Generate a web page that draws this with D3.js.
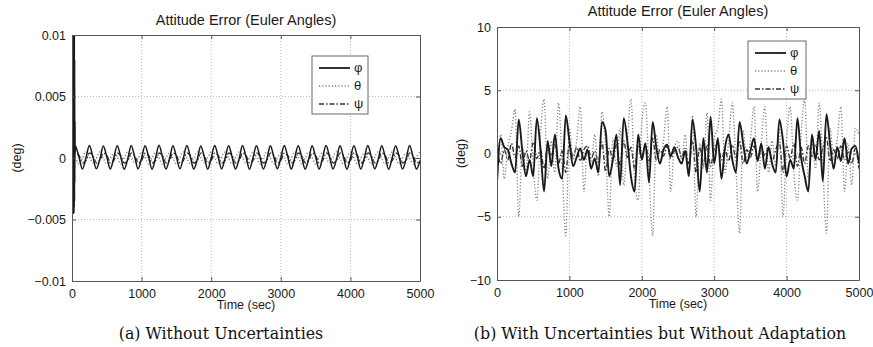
<!DOCTYPE html>
<html>
<head>
<meta charset="utf-8">
<script src="https://cdn.jsdelivr.net/npm/d3@7"></script>
<style>
  body { margin: 0; background: #fff; }
  svg { display: block; }
</style>
</head>
<body>
<div id="chart"></div>
<script>
// sample times, seconds (every 50 s)
var timeSec = [
  0, 50, 100, 150, 200, 250, 300, 350, 400, 450,
  500, 550, 600, 650, 700, 750, 800, 850, 900, 950,
  1000, 1050, 1100, 1150, 1200, 1250, 1300, 1350, 1400, 1450,
  1500, 1550, 1600, 1650, 1700, 1750, 1800, 1850, 1900, 1950,
  2000, 2050, 2100, 2150, 2200, 2250, 2300, 2350, 2400, 2450,
  2500, 2550, 2600, 2650, 2700, 2750, 2800, 2850, 2900, 2950,
  3000, 3050, 3100, 3150, 3200, 3250, 3300, 3350, 3400, 3450,
  3500, 3550, 3600, 3650, 3700, 3750, 3800, 3850, 3900, 3950,
  4000, 4050, 4100, 4150, 4200, 4250, 4300, 4350, 4400, 4450,
  4500, 4550, 4600, 4650, 4700, 4750, 4800, 4850, 4900, 4950,
  5000
];

// (a) initial transient of phi in the first seconds
var phiStartTime = [0, 2, 4, 6, 8, 10, 12, 14, 16, 18, 20, 22, 24, 26, 28, 30, 32, 34, 36, 38, 40, 43, 46];
var phiStart = [-0.012, 0.012, -0.0045, 0.012, -0.0045, 0.012, -0.0045, 0.012, -0.0045, 0.012,
  -0.0045, 0.012, -0.0045, 0.012, -0.0045, 0.012, -0.004, 0.011, -0.0035, 0.008, -0.002, 0.003, 0.0005];

// (a) without uncertainties
var phiA = [
  0.0005, 0.00100, 0.0001, -0.00090, 0.0000, 0.00102, 0.0001, -0.00088, -0.0001, 0.00098,
  0.0001, -0.00090, 0.0000, 0.00100, 0.0001, -0.00092, -0.0001, 0.00101, 0.0001, -0.00089,
  0.0000, 0.00099, 0.0001, -0.00091, 0.0000, 0.00103, 0.0001, -0.00090, -0.0001, 0.00100,
  0.0001, -0.00088, 0.0000, 0.00101, 0.0001, -0.00090, -0.0001, 0.00098, 0.0001, -0.00091,
  0.0000, 0.00102, 0.0001, -0.00089, 0.0000, 0.00100, 0.0001, -0.00090, -0.0001, 0.00101,
  0.0001, -0.00092, 0.0000, 0.00099, 0.0001, -0.00090, -0.0001, 0.00100, 0.0001, -0.00088,
  0.0000, 0.00102, 0.0001, -0.00090, 0.0000, 0.00100, 0.0001, -0.00091, -0.0001, 0.00099,
  0.0001, -0.00090, 0.0000, 0.00101, 0.0001, -0.00089, -0.0001, 0.00100, 0.0001, -0.00092,
  0.0000, 0.00100, 0.0001, -0.00090, 0.0000, 0.00102, 0.0001, -0.00088, -0.0001, 0.00100,
  0.0001, -0.00091, 0.0000, 0.00099, 0.0001, -0.00090, -0.0001, 0.00101, 0.0001, -0.00090,
  -0.0002
];
var thetaA = [
  0.0005, 0.0000, -0.0005, 0.0000, 0.0005, 0.0001, -0.0004, 0.0000, 0.0005, 0.0000,
  -0.0005, 0.0000, 0.0004, 0.0001, -0.0005, 0.0000, 0.0005, 0.0000, -0.0004, 0.0000,
  0.0005, 0.0001, -0.0005, 0.0000, 0.0005, 0.0000, -0.0005, 0.0000, 0.0004, 0.0000,
  -0.0005, 0.0001, 0.0005, 0.0000, -0.0005, 0.0000, 0.0005, 0.0000, -0.0004, 0.0000,
  0.0005, 0.0000, -0.0005, 0.0001, 0.0005, 0.0000, -0.0005, 0.0000, 0.0005, 0.0000,
  -0.0004, 0.0000, 0.0005, 0.0001, -0.0005, 0.0000, 0.0005, 0.0000, -0.0005, 0.0000,
  0.0004, 0.0000, -0.0005, 0.0000, 0.0005, 0.0001, -0.0005, 0.0000, 0.0005, 0.0000,
  -0.0005, 0.0000, 0.0005, 0.0000, -0.0004, 0.0001, 0.0005, 0.0000, -0.0005, 0.0000,
  0.0005, 0.0000, -0.0005, 0.0000, 0.0004, 0.0000, -0.0005, 0.0001, 0.0005, 0.0000,
  -0.0005, 0.0000, 0.0005, 0.0000, -0.0005, 0.0000, 0.0004, 0.0000, -0.0005, 0.0001,
  0.0005
];
var psiA = [
  -0.0002, 0.0004, 0.0002, -0.0004, -0.0002, 0.0004, 0.0002, -0.0004, -0.0002, 0.0004,
  0.0002, -0.0004, -0.0002, 0.0004, 0.0002, -0.0004, -0.0002, 0.0004, 0.0002, -0.0004,
  -0.0002, 0.0004, 0.0002, -0.0004, -0.0002, 0.0004, 0.0002, -0.0004, -0.0002, 0.0004,
  0.0002, -0.0004, -0.0002, 0.0004, 0.0002, -0.0004, -0.0002, 0.0004, 0.0002, -0.0004,
  -0.0002, 0.0004, 0.0002, -0.0004, -0.0002, 0.0004, 0.0002, -0.0004, -0.0002, 0.0004,
  0.0002, -0.0004, -0.0002, 0.0004, 0.0002, -0.0004, -0.0002, 0.0004, 0.0002, -0.0004,
  -0.0002, 0.0004, 0.0002, -0.0004, -0.0002, 0.0004, 0.0002, -0.0004, -0.0002, 0.0004,
  0.0002, -0.0004, -0.0002, 0.0004, 0.0002, -0.0004, -0.0002, 0.0004, 0.0002, -0.0004,
  -0.0002, 0.0004, 0.0002, -0.0004, -0.0002, 0.0004, 0.0002, -0.0004, -0.0002, 0.0004,
  0.0002, -0.0004, -0.0002, 0.0004, 0.0002, -0.0004, -0.0002, 0.0004, 0.0002, -0.0004,
  -0.0002
];

// (b) with uncertainties but without adaptation
var phiB = [
  -2.3, 1.2, 0.5, 0.3, -0.8, -1.5, 2.7, 0.2, -1.8, -0.5,
  -1.8, 2.8, 0.4, -3.0, 1.0, -1.0, 1.5, -1.2, -2.0, 3.0,
  1.0, -1.0, -0.3, 0.4, -0.5, 0.3, -1.2, -0.4, -1.5, 2.5,
  1.8, -1.8, -0.5, 1.5, -2.5, 2.8, 1.0, -1.8, -3.0, 1.5,
  -0.5, 0.8, -2.3, 2.5, 0.5, -0.8, 0.3, 0.7, -0.2, 0.5,
  -0.3, -0.8, 0.2, -1.8, 2.7, 0.5, -3.0, 1.2, -1.5, 2.9,
  -0.8, 1.2, -2.0, 0.5, 1.5, -0.5, -1.5, 2.5, 0.8, -0.8,
  0.2, 1.2, -0.6, 0.8, -1.2, 0.5, -0.8, -1.5, 2.7, 1.0,
  -1.8, -0.5, -1.2, 2.8, -0.3, -1.8, -3.0, 1.5, -0.5, 1.8,
  -2.2, 3.1, 0.8, -1.2, 0.5, -0.6, 1.2, -0.8, 0.4, 0.6,
  -0.8
];
var thetaB = [
  -2.5, 1.5, -2.0, 0.5, 1.8, 3.5, -5.0, 0.5, -1.5, 3.3,
  -1.0, -3.7, 1.5, 4.3, -2.0, 1.0, -1.5, 4.0, -1.0, -6.5,
  2.0, -0.5, 1.0, 3.7, -3.0, 0.5, -0.8, 1.5, -1.8, 3.3,
  0.5, -5.0, 1.2, -1.0, 2.0, -2.5, 1.0, 4.3, -2.0, -3.7,
  2.5, 4.0, -1.5, -6.5, 1.5, -0.8, 1.0, 3.7, -3.0, 0.5,
  1.0, -0.5, 1.5, -1.8, 3.0, -5.0, 0.8, -1.2, 3.2, -3.7,
  1.2, 2.0, 4.3, -1.5, 1.0, 4.0, -1.0, -6.3, 1.8, -0.5,
  1.0, 3.7, -3.0, 0.8, 3.7, -1.5, 1.0, -1.0, 2.0, -5.0,
  1.0, 3.7, -1.5, -3.7, 1.5, 4.3, -2.0, 1.0, -1.2, 4.0,
  -1.0, -6.3, 2.0, -0.5, 1.2, 3.7, -3.0, 0.8, -2.5, 2.0,
  1.5
];
var psiB = [
  0.5, -0.8, 0.3, -0.5, 0.8, -0.3, 0.6, -1.0, 0.2, -0.6,
  0.9, -0.4, 0.3, -1.2, 0.5, -0.2, 0.7, -0.8, 0.2, -1.5,
  0.8, -0.3, 0.5, -0.6, 0.3, 0.6, -0.4, 0.2, -0.7, 0.9,
  -1.4, 0.4, -0.5, 0.7, -0.9, 1.0, -0.3, 0.5, -1.2, 0.6,
  -0.4, 0.8, -0.6, 1.2, -0.5, 0.3, -0.2, 0.6, -0.4, 0.2,
  0.5, -0.3, 0.4, -0.8, 1.0, -1.5, 0.5, -0.9, 0.7, -1.0,
  0.4, 0.8, -0.5, 0.3, -0.6, 0.7, -0.4, 1.0, -0.8, 0.3,
  -0.3, 0.6, -0.5, 0.4, -0.2, 0.5, -0.6, 0.3, 0.9, -1.5,
  0.6, -0.4, 0.8, -1.0, 0.5, -0.8, 0.6, -0.3, 0.7, -0.5,
  0.4, 1.3, -0.6, 0.3, -0.4, 0.6, -0.5, 0.2, -0.8, 0.4,
  -1.2
];

var seriesNames = ["\u03c6", "\u03b8", "\u03c8"];
var xTicks = [0, 1000, 2000, 3000, 4000, 5000];
var yTicksA = [-0.01, -0.005, 0, 0.005, 0.01];
var yTickLabelsA = ["\u22120.01", "\u22120.005", "0", "0.005", "0.01"];
var yTicksB = [-10, -5, 0, 5, 10];
var yTickLabelsB = ["\u221210", "\u22125", "0", "5", "10"];

var titleText = "Attitude Error (Euler Angles)";
var xLabelText = "Time (sec)";
var yLabelText = "(deg)";

// line styles for phi, theta, psi
var styles = [
  {stroke: "#1a1a1a", width: 1.5, dash: null},
  {stroke: "#808080", width: 1.3, dash: "1.2,2"},
  {stroke: "#333", width: 1.4, dash: "5,2,1.5,2"}
];

var svg = d3.select("#chart")
  .append("svg")
  .attr("width", 873)
  .attr("height", 347)
  .style("font-family", "'Liberation Sans', Arial, sans-serif");

function zip(t, v) {
  return t.map(function(d, i) { return {t: d, v: v[i]}; });
}

// phi in panel (a) = transient + steady oscillation
var phiAPts = zip(phiStartTime, phiStart).concat(zip(timeSec, phiA).filter(function(d) { return d.t > 46; }));

var panels = [
  {
    id: "a",
    left: 72, right: 420, top: 35, bottom: 281,
    yDomain: [-0.01, 0.01], yTicks: yTicksA, yLabels: yTickLabelsA,
    data: [phiAPts, zip(timeSec, thetaA), zip(timeSec, psiA)],
    curve: d3.curveCatmullRom, phiWidth: 1.5,
    titleY: 25, yLabelX: 21, caption: "(a) Without Uncertainties", captionX: 221,
    legend: {x: 312, y: 56, w: 56, h: 58}
  },
  {
    id: "b",
    left: 497, right: 859, top: 27, bottom: 280,
    yDomain: [-10, 10], yTicks: yTicksB, yLabels: yTickLabelsB,
    data: [zip(timeSec, phiB), zip(timeSec, thetaB), zip(timeSec, psiB)],
    curve: d3.curveMonotoneX, phiWidth: 1.9,
    titleY: 16, yLabelX: 465, caption: "(b) With Uncertainties but Without Adaptation", captionX: 660,
    legend: {x: 748, y: 41, w: 58, h: 58}
  }
];

panels.forEach(function(p) {
  var width = p.right - p.left;
  var height = p.bottom - p.top;

  var x = d3.scaleLinear().domain([0, 5000]).range([0, width]);
  var y = d3.scaleLinear().domain(p.yDomain).range([height, 0]);

  var g = svg.append("g")
    .attr("transform", "translate(" + p.left + "," + p.top + ")");

  // dotted grid
  g.append("g").selectAll("line").data(xTicks.slice(1, -1)).enter().append("line")
    .attr("x1", function(d) { return x(d); }).attr("x2", function(d) { return x(d); })
    .attr("y1", 0).attr("y2", height)
    .attr("stroke", "#b8b8b8").attr("stroke-dasharray", "1,2");
  g.append("g").selectAll("line").data(p.yTicks.slice(1, -1)).enter().append("line")
    .attr("y1", function(d) { return y(d); }).attr("y2", function(d) { return y(d); })
    .attr("x1", 0).attr("x2", width)
    .attr("stroke", "#b8b8b8").attr("stroke-dasharray", "1,2");

  // clip for the curves
  g.append("clipPath").attr("id", "clip-" + p.id)
    .append("rect").attr("width", width).attr("height", height);

  var line = d3.line()
    .x(function(d) { return x(d.t); })
    .y(function(d) { return y(d.v); })
    .curve(p.curve);

  var lines = g.append("g").attr("clip-path", "url(#clip-" + p.id + ")");
  // draw psi, theta first then phi on top
  [2, 1, 0].forEach(function(k) {
    lines.append("path")
      .datum(p.data[k])
      .attr("fill", "none")
      .attr("stroke", styles[k].stroke)
      .attr("stroke-width", k == 0 ? p.phiWidth : styles[k].width)
      .attr("stroke-dasharray", styles[k].dash)
      .attr("d", line);
  });

  // axes, MATLAB style box with ticks pointing inside
  var xAxis = d3.axisBottom(x).tickValues(xTicks).tickFormat(d3.format("d"))
    .tickSizeInner(-4).tickSizeOuter(0).tickPadding(8);
  var yAxis = d3.axisLeft(y).tickValues(p.yTicks)
    .tickFormat(function(d, i) { return p.yLabels[i]; })
    .tickSizeInner(-4).tickSizeOuter(0).tickPadding(6);

  var axes = [
    g.append("g").attr("transform", "translate(0," + height + ")").call(xAxis),
    g.append("g").call(yAxis),
    g.append("g").call(d3.axisTop(x).tickValues(xTicks).tickSizeInner(-4).tickSizeOuter(0).tickFormat("")),
    g.append("g").attr("transform", "translate(" + width + ",0)")
      .call(d3.axisRight(y).tickValues(p.yTicks).tickSizeInner(-4).tickSizeOuter(0).tickFormat(""))
  ];
  axes.forEach(function(a) {
    a.attr("font-family", null).attr("font-size", 12.5);
    a.select(".domain").attr("stroke", "#555");
    a.selectAll(".tick line").attr("stroke", "#555");
    a.selectAll(".tick text").attr("fill", "#1a1a1a");
  });

  // legend
  var lg = svg.append("g").attr("transform", "translate(" + p.legend.x + "," + p.legend.y + ")");
  lg.append("rect")
    .attr("width", p.legend.w).attr("height", p.legend.h)
    .attr("fill", "#fff").attr("stroke", "#666").attr("stroke-width", 1);
  seriesNames.forEach(function(name, k) {
    var ry = 12 + k * 18;
    lg.append("line")
      .attr("x1", 7).attr("x2", 38).attr("y1", ry).attr("y2", ry)
      .attr("stroke", styles[k].stroke)
      .attr("stroke-width", styles[k].width + 0.3)
      .attr("stroke-dasharray", styles[k].dash);
    lg.append("text")
      .attr("x", 42).attr("y", ry + 4)
      .attr("font-size", 13).attr("fill", "#1a1a1a")
      .text(name);
  });

  // titles
  svg.append("text")
    .attr("x", p.left + width / 2).attr("y", p.titleY)
    .attr("text-anchor", "middle").attr("font-size", 14.5).attr("fill", "#1a1a1a")
    .text(titleText);
  svg.append("text")
    .attr("x", p.left + width / 2).attr("y", p.bottom + 28)
    .attr("text-anchor", "middle").attr("font-size", 12.5).attr("fill", "#1a1a1a")
    .text(xLabelText);
  svg.append("text")
    .attr("transform", "translate(" + p.yLabelX + "," + (p.top + height / 2) + ")rotate(-90)")
    .attr("text-anchor", "middle").attr("font-size", 12.5).attr("fill", "#1a1a1a")
    .text(yLabelText);
  svg.append("text")
    .attr("x", p.captionX).attr("y", 339)
    .attr("text-anchor", "middle")
    .attr("font-family", "'DejaVu Serif', 'Liberation Serif', serif")
    .attr("font-size", 15.8).attr("fill", "#111")
    .text(p.caption);
});
</script>
</body>
</html>
